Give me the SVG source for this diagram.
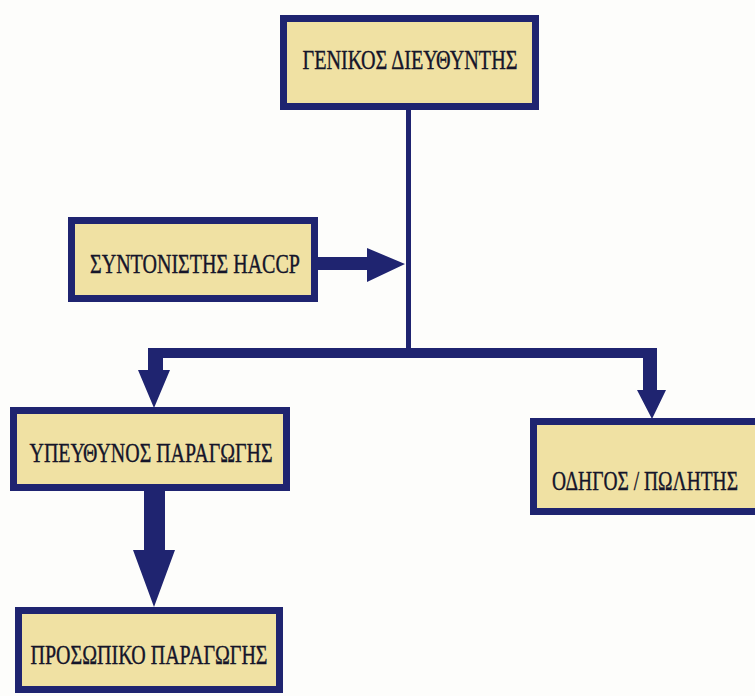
<svg xmlns="http://www.w3.org/2000/svg" width="755" height="696" viewBox="0 0 755 696">
<style>
.box{fill:#f0e1a3;stroke:#1f2470;stroke-width:7}
.lbl{font-family:"Liberation Serif","DejaVu Serif",serif;font-size:28px;fill:#15152a;stroke:#15152a;stroke-width:0.4;text-anchor:middle;dominant-baseline:central}
.con{fill:#1f2470;stroke:none}
</style>
<rect width="755" height="696" fill="#fdfdfb"/>
<g id="connectors">
<rect class="con" x="406" y="108" width="5" height="250"/>
<path class="con" d="M318 257 H367 V248 L405 264 L367 282 V270 H318 Z"/>
<path class="con" d="M148 348 H657 V390 H666 L652 419 L637 390 H643 V358 H163 V370 H170 L154 408 L138 370 H148 Z"/>
<path class="con" d="M144 489 H165 V550 H175 L154 607 L133 550 H144 Z"/>
</g>
<g id="n1">
<rect class="box" x="283.5" y="18.5" width="252" height="88"/>
<text class="lbl" x="410" y="59" textLength="215" lengthAdjust="spacingAndGlyphs">ΓΕΝΙΚΟΣ ΔΙΕΥΘΥΝΤΗΣ</text>
</g>
<g id="n2">
<rect class="box" x="71.5" y="220.5" width="243" height="78"/>
<text class="lbl" x="195" y="263" textLength="210" lengthAdjust="spacingAndGlyphs">ΣΥΝΤΟΝΙΣΤΗΣ HACCP</text>
</g>
<g id="n3">
<rect class="box" x="13.5" y="410.5" width="273" height="77"/>
<text class="lbl" x="151" y="452" textLength="243" lengthAdjust="spacingAndGlyphs">ΥΠΕΥΘΥΝΟΣ ΠΑΡΑΓΩΓΗΣ</text>
</g>
<g id="n4">
<rect class="box" x="533.5" y="421.5" width="225" height="90"/>
<text class="lbl" x="645" y="480" textLength="186" lengthAdjust="spacingAndGlyphs">ΟΔΗΓΟΣ / ΠΩΛΗΤΗΣ</text>
</g>
<g id="n5">
<rect class="box" x="18.5" y="610.5" width="261" height="79"/>
<text class="lbl" x="149" y="654" textLength="237" lengthAdjust="spacingAndGlyphs">ΠΡΟΣΩΠΙΚΟ ΠΑΡΑΓΩΓΗΣ</text>
</g>
</svg>
